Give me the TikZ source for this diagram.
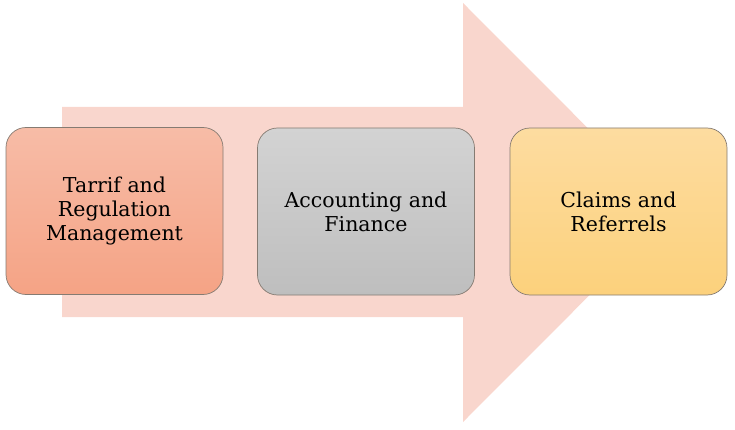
\documentclass[tikz,border=0pt]{standalone}
\usepackage{fontspec}
\setmainfont{DejaVu Serif}
\definecolor{arrowfill}{HTML}{F9D6CD}
\definecolor{edgecol}{HTML}{857B72}
\definecolor{orTop}{HTML}{F7BCA7}
\definecolor{orBot}{HTML}{F5A385}
\definecolor{grTop}{HTML}{D3D3D3}
\definecolor{grBot}{HTML}{BEBEBE}
\definecolor{yeTop}{HTML}{FDDCA0}
\definecolor{yeBot}{HTML}{FCD17C}
\tikzset{
  stage/.style={draw=edgecol, line width=0.7pt, rounded corners=20pt,
    minimum width=217pt, minimum height=167pt, inner sep=0pt,
    align=center, font=\fontsize{20.5}{24}\selectfont, text=black},
}
\begin{document}
\begin{tikzpicture}[x=1pt,y=-1pt]
\useasboundingbox (0,0) rectangle (735,430);
\fill[arrowfill] (62,107) -- (463,107) -- (463,3) -- (672,212.5) -- (463,422) -- (463,317) -- (62,317) -- cycle;
\node[stage, top color=orTop, bottom color=orBot] (a) at (114.5,211) {Tarrif and\\Regulation\\Management};
\node[stage, top color=grTop, bottom color=grBot] (b) at (366,211.5) {Accounting and\\Finance};
\node[stage, top color=yeTop, bottom color=yeBot] (c) at (618.5,211.5) {Claims and\\Referrels};
\end{tikzpicture}
\end{document}
